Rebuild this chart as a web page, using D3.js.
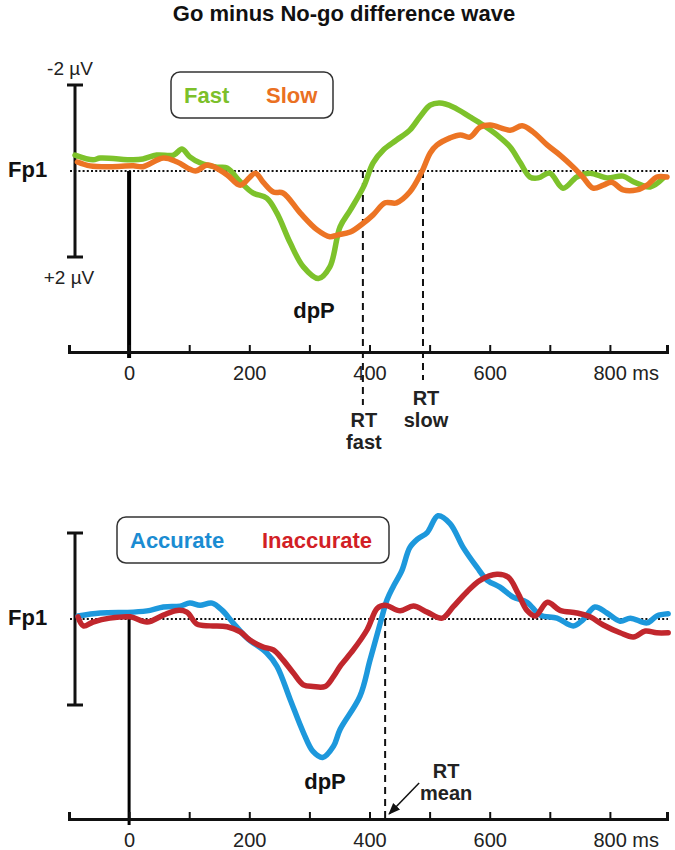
<!DOCTYPE html>
<html>
<head>
<meta charset="utf-8">
<script src="https://cdn.jsdelivr.net/npm/d3@7"></script>
<style>
  body { margin: 0; background: #fff; }
  svg { display: block; font-family: "Liberation Sans", Arial, sans-serif; }
  .curve { fill: none; stroke-width: 5.5; stroke-linejoin: round; stroke-linecap: round; }
  .bold { font-weight: bold; }
</style>
</head>
<body>
<svg id="chart" width="675" height="850"></svg>
<script>
// time (ms) and amplitude (µV, negative up)
const fastTime = [-90, -60, -48, 7, 23, 46, 74, 88, 101, 118, 146, 163, 185, 206, 229, 246, 268, 290, 315, 334, 351, 368, 390, 406, 423, 445, 467, 484, 501, 517, 539, 567, 589, 612, 634, 651, 667, 681, 700, 722, 745, 767, 795, 822, 839, 867, 889];
const fastAmp = [-0.37, -0.26, -0.3, -0.26, -0.28, -0.37, -0.37, -0.51, -0.33, -0.19, -0.09, -0.07, 0.25, 0.51, 0.63, 0.98, 1.67, 2.23, 2.5, 2.23, 1.3, 0.91, 0.37, -0.19, -0.49, -0.72, -0.95, -1.26, -1.53, -1.58, -1.49, -1.26, -1.07, -0.84, -0.56, -0.19, 0.14, 0.16, 0.05, 0.4, 0.14, 0.05, 0.16, 0.12, 0.25, 0.37, 0.16];

const slowTime = [-86, -65, -32, 7, 23, 57, 80, 110, 131, 163, 185, 210, 223, 240, 256, 285, 313, 334, 346, 368, 390, 406, 426, 445, 467, 487, 501, 512, 534, 551, 567, 584, 601, 634, 654, 672, 696, 717, 739, 755, 772, 789, 803, 822, 845, 862, 878, 895];
const slowAmp = [-0.21, -0.12, -0.1, -0.12, -0.1, -0.3, -0.21, 0, -0.14, 0.09, 0.33, 0.05, 0.26, 0.49, 0.51, 0.98, 1.37, 1.53, 1.49, 1.42, 1.21, 1.02, 0.74, 0.74, 0.49, 0.02, -0.42, -0.6, -0.77, -0.84, -0.79, -1.02, -1.07, -0.95, -1.05, -0.91, -0.6, -0.37, -0.09, 0.14, 0.4, 0.33, 0.26, 0.44, 0.44, 0.33, 0.14, 0.14];

const accTime = [-85, -48, 7, 35, 57, 85, 101, 118, 138, 155, 173, 196, 229, 246, 268, 290, 306, 322, 340, 351, 384, 401, 418, 429, 439, 454, 467, 481, 496, 514, 534, 556, 579, 596, 617, 639, 662, 684, 712, 739, 755, 775, 795, 817, 834, 862, 878, 897];
const accAmp = [-0.07, -0.14, -0.16, -0.2, -0.28, -0.3, -0.37, -0.32, -0.37, -0.2, 0.09, 0.44, 0.79, 1.1, 1.87, 2.64, 3.08, 3.22, 2.96, 2.57, 1.8, 0.95, 0.09, -0.44, -0.74, -1.13, -1.66, -1.87, -2.01, -2.4, -2.22, -1.66, -1.2, -0.9, -0.74, -0.51, -0.39, -0.09, -0.02, 0.16, 0.02, -0.28, -0.14, 0.05, -0.02, 0.09, -0.07, -0.12];

const inaccTime = [-85, -76, -60, -32, 2, 30, 57, 80, 96, 113, 135, 163, 185, 201, 223, 240, 256, 273, 290, 306, 326, 340, 351, 373, 396, 413, 426, 451, 473, 496, 521, 539, 562, 584, 612, 631, 647, 662, 676, 696, 717, 745, 767, 789, 817, 839, 859, 878, 897];
const inaccAmp = [-0.05, 0.16, 0.07, -0.02, -0.05, 0.07, -0.09, -0.2, -0.16, 0.12, 0.16, 0.18, 0.3, 0.49, 0.65, 0.72, 0.95, 1.25, 1.53, 1.57, 1.57, 1.34, 1.1, 0.72, 0.25, -0.25, -0.32, -0.19, -0.3, -0.16, -0.02, -0.28, -0.63, -0.9, -1.04, -0.97, -0.6, -0.2, -0.07, -0.39, -0.2, -0.14, -0.05, 0.14, 0.32, 0.42, 0.28, 0.32, 0.32];

const tickValues = [-100, 0, 100, 200, 300, 400, 500, 600, 700, 800];
const labelValues = [0, 200, 400, 600, 800];
const rtFast = 389;
const rtSlow = 489;
const rtMean = 426;

const svg = d3.select('#chart');

const x = d3.scaleLinear().domain([-100, 895]).range([69, 667]);

function zip(t, v) {
	return t.map((d, i) => ({ t: d, v: v[i] }));
}

function drawPanel(p) {
	const y = d3.scaleLinear().domain([-2, 2]).range([p.y0 - 86, p.y0 + 86]);
	const g = svg.append('g');

	// dotted baseline
	g.append('line')
		.attr('x1', 70).attr('x2', 668)
		.attr('y1', y(0)).attr('y2', y(0))
		.attr('stroke', '#111').attr('stroke-width', 2)
		.attr('stroke-dasharray', '2,2.2');

	// stimulus onset
	g.append('line')
		.attr('x1', x(0)).attr('x2', x(0))
		.attr('y1', y(0)).attr('y2', p.axisY + 6)
		.attr('stroke', '#000').attr('stroke-width', p.zeroWidth);

	// scale bar
	const bar = g.append('g').attr('stroke', '#111').attr('stroke-width', 3);
	bar.append('line').attr('x1', 75).attr('x2', 75).attr('y1', y(-2)).attr('y2', y(2));
	bar.append('line').attr('x1', 67).attr('x2', 83).attr('y1', y(-2)).attr('y2', y(-2));
	bar.append('line').attr('x1', 67).attr('x2', 83).attr('y1', y(2)).attr('y2', y(2));

	if (p.showUnits) {
		g.append('text').attr('x', 70).attr('y', y(-2) - 10)
			.attr('text-anchor', 'middle').attr('font-size', 19).attr('fill', '#222')
			.text('-2 \u00b5V');
		g.append('text').attr('x', 69).attr('y', y(2) + 27)
			.attr('text-anchor', 'middle').attr('font-size', 19).attr('fill', '#222')
			.text('+2 \u00b5V');
	}

	g.append('text').attr('class', 'bold')
		.attr('x', 8).attr('y', y(0) + 6)
		.attr('font-size', 22).attr('fill', '#111')
		.text('Fp1');

	// RT markers
	p.rts.forEach(r => {
		g.append('line')
			.attr('x1', x(r.t)).attr('x2', x(r.t))
			.attr('y1', y(0)).attr('y2', r.end)
			.attr('stroke', '#111').attr('stroke-width', 2)
			.attr('stroke-dasharray', '7,5');
	});

	// axis
	const axis = d3.axisBottom(x)
		.tickValues(tickValues)
		.tickSizeInner(-7)
		.tickSizeOuter(-7)
		.tickPadding(17)
		.tickFormat(d => labelValues.includes(d) ? (d === 800 ? '800 ms' : d) : '');

	const ax = g.append('g')
		.attr('transform', `translate(0,${p.axisY})`)
		.call(axis);
	ax.select('.domain').attr('stroke', '#111').attr('stroke-width', 3);
	ax.selectAll('.tick line').attr('stroke', '#111').attr('stroke-width', 2);
	ax.selectAll('.tick text')
		.attr('font-size', 20)
		.attr('font-family', '"Liberation Sans", Arial, sans-serif')
		.attr('fill', '#222')
		.attr('y', 28).attr('dy', 0);
	ax.selectAll('.tick text').filter(d => d === 800)
		.attr('text-anchor', 'start').attr('x', -17);

	// waves
	const line = d3.line()
		.x(d => x(d.t))
		.y(d => y(d.v))
		.curve(d3.curveCatmullRom.alpha(0.5));

	p.series.forEach(s => {
		g.append('path')
			.datum(zip(s.t, s.v))
			.attr('class', 'curve')
			.attr('stroke', s.color)
			.attr('d', line);
	});

	// legend
	g.append('rect')
		.attr('x', p.legend.x).attr('y', p.y0 + p.legend.dy)
		.attr('width', p.legend.w).attr('height', 46)
		.attr('rx', 9)
		.attr('fill', '#fff').attr('stroke', '#333').attr('stroke-width', 1.5);
	p.series.forEach(s => {
		g.append('text').attr('class', 'bold')
			.attr('x', s.lx).attr('y', p.y0 + p.legend.dy + 31)
			.attr('font-size', 22).attr('fill', s.textColor)
			.text(s.name);
	});

	g.append('text').attr('class', 'bold')
		.attr('x', p.dpP.x).attr('y', p.dpP.y)
		.attr('text-anchor', 'middle').attr('font-size', 22).attr('fill', '#111')
		.text('dpP');

	return g;
}

svg.append('text').attr('class', 'bold')
	.attr('x', 344).attr('y', 21)
	.attr('text-anchor', 'middle').attr('font-size', 22).attr('fill', '#111')
	.text('Go minus No-go difference wave');

drawPanel({
	y0: 171,
	axisY: 352,
	zeroWidth: 4,
	showUnits: true,
	rts: [{ t: rtFast, end: 405 }, { t: rtSlow, end: 380 }],
	legend: { x: 171, w: 162, dy: -99 },
	dpP: { x: 314, y: 318 },
	series: [
		{ name: 'Fast', t: fastTime, v: fastAmp, color: '#7dc22b', textColor: '#7cc02a', lx: 184 },
		{ name: 'Slow', t: slowTime, v: slowAmp, color: '#ec7424', textColor: '#ea7022', lx: 266 }
	]
});

const bottom = drawPanel({
	y0: 619,
	axisY: 819,
	zeroWidth: 3,
	showUnits: false,
	rts: [{ t: rtMean, end: 819 }],
	legend: { x: 117, w: 272, dy: -102 },
	dpP: { x: 325, y: 789 },
	series: [
		{ name: 'Accurate', t: accTime, v: accAmp, color: '#1d98dc', textColor: '#1b8cd2', lx: 130 },
		{ name: 'Inaccurate', t: inaccTime, v: inaccAmp, color: '#c1272d', textColor: '#d21f26', lx: 262 }
	]
});

// RT labels
function label(g, cx, y1, lines) {
	lines.forEach((s, i) => {
		g.append('text').attr('class', 'bold')
			.attr('x', cx).attr('y', y1 + i * 22)
			.attr('text-anchor', 'middle').attr('font-size', 20).attr('fill', '#222')
			.text(s);
	});
}
label(svg, x(rtFast) + 1, 427, ['RT', 'fast']);
label(svg, x(rtSlow) + 3, 405, ['RT', 'slow']);
label(bottom, x(rtMean) + 61, 778, ['RT', 'mean']);

// arrow towards RT mean
svg.append('defs').append('marker')
	.attr('id', 'head')
	.attr('viewBox', '0 0 10 10')
	.attr('refX', 9).attr('refY', 5)
	.attr('markerWidth', 8).attr('markerHeight', 8)
	.attr('orient', 'auto')
	.append('path').attr('d', 'M0,1 L10,5 L0,9 Z').attr('fill', '#111');

bottom.append('line')
	.attr('x1', x(rtMean) + 34).attr('y1', 783)
	.attr('x2', x(rtMean) + 4).attr('y2', 814)
	.attr('stroke', '#111').attr('stroke-width', 1.5)
	.attr('marker-end', 'url(#head)');
</script>
</body>
</html>
